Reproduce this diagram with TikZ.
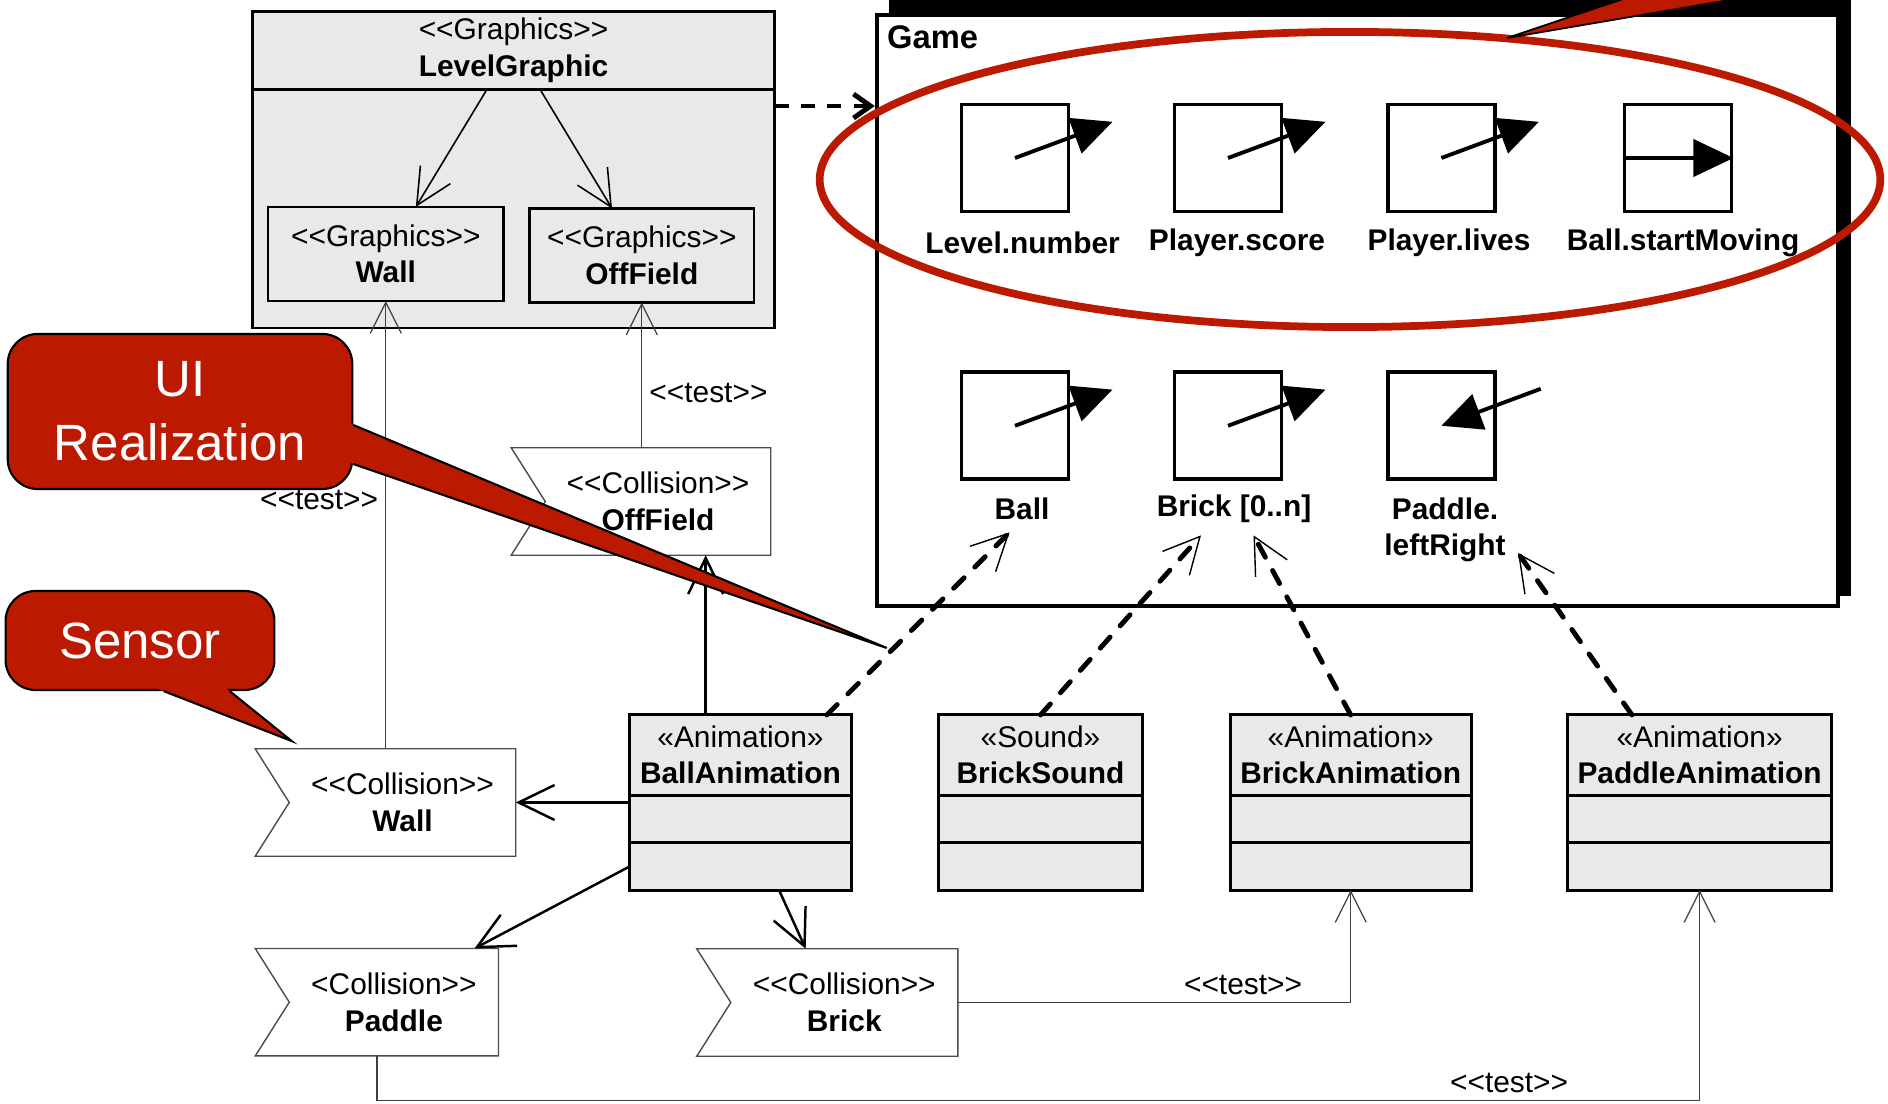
\documentclass[tikz,border=0pt]{standalone}
\usepackage{fontspec}
\setmainfont{Liberation Sans}
\usetikzlibrary{arrows.meta, positioning, calc}
\definecolor{calred}{RGB}{187,26,0}
\definecolor{clsgray}{RGB}{233,233,233}
\newcommand\stereo[1]{<\kern0pt<#1>\kern0pt>}

\begin{document}
\begin{tikzpicture}[
  x=0.01cm, y=0.01cm,
  font=\fontsize{8.5}{10.4}\selectfont,
  clshead/.style={rectangle, draw, line width=0.85pt, fill=clsgray, minimum height=0.80cm,
                  inner sep=1pt, outer sep=0pt, align=center},
  clscomp/.style={rectangle, draw, line width=0.85pt, fill=clsgray, minimum height=0.475cm, outer sep=0pt},
  gfxbox/.style={rectangle, draw, line width=0.75pt, fill=clsgray, minimum height=0.94cm,
                 inner sep=1pt, align=center, outer sep=0pt},
  accept/.style={minimum height=1.06cm, align=center, inner sep=1pt},
  icon/.style={rectangle, draw, line width=1.1pt, minimum size=1.07cm},
  lbl/.style={font=\fontsize{8.5}{10.4}\selectfont\bfseries, align=center},
  testlbl/.style={inner sep=2pt},
  bubble/.style={rectangle, rounded corners=0.3cm, draw, line width=0.6pt, fill=calred, text=white,
                 font=\fontsize{14.5}{18.2}\selectfont, align=center},
  uses/.style={-{Straight Barb[length=0.36cm, width=0.35cm]}, line width=0.7pt},
  dep/.style={-{Straight Barb[length=0.36cm, width=0.36cm, line width=0.4pt]}, line width=1.4pt,
              line cap=round, dash pattern=on 4.2pt off 4.3pt},
  testline/.style={-{Straight Barb[length=0.31cm, width=0.31cm]}, line width=0.35pt, draw=black!75},
  iconarrow/.style={-{Triangle[length=0.40cm, width=0.37cm]}, line width=1.1pt},
]
\useasboundingbox (0,0) rectangle (1888,-1104);

% graphics package
\node[gfxbox, minimum width=5.22cm, minimum height=0.78cm] (lvlghead) at (513.5,-50.3)
  {\stereo{Graphics}\\\textbf{LevelGraphic}};
\node[gfxbox, minimum width=5.22cm, minimum height=2.386cm, below=0pt of lvlghead] (lvlgbody) {};
\node[gfxbox, minimum width=2.356cm] (gwall) at (385.8,-254) {\stereo{Graphics}\\\textbf{Wall}};
\node[gfxbox, minimum width=2.244cm] (goff)  at (641.8,-255.5) {\stereo{Graphics}\\\textbf{OffField}};
\draw[uses, line width=0.45pt] ([xshift=-0.265cm]lvlghead.south) -- ([xshift=0.30cm]gwall.north);
\draw[uses, line width=0.45pt] ([xshift=0.265cm]lvlghead.south) -- ([xshift=-0.298cm]goff.north);

% game frame
\node[rectangle, fill=black, minimum width=9.62cm, minimum height=6.02cm] (gameshadow) at (1370,-295) {};
\node[rectangle, draw, fill=white, line width=1.1pt, minimum width=9.61cm, minimum height=5.91cm]
  (game) at (1357.5,-310.5) {};
\node[lbl, font=\fontsize{9.3}{11}\selectfont\bfseries, anchor=north west] (gametitle)
  at (game.north west) {Game};

\foreach \n/\x/\y in {ic1/1015/158, ic2/1228/158, ic3/1441.4/158, ic4/1678/158,
                      ic5/1015/425.8, ic6/1228/425.8, ic7/1441.4/425.8}
  \node[icon] (\n) at (\x,-\y) {};
\foreach \n in {ic1, ic2, ic3, ic5, ic6}
  \draw[iconarrow] (\n.center) -- ++(97.5,36.2);
\draw[iconarrow] (ic4.west) -- (ic4.east);
\draw[iconarrow] ([shift={(99.3,37)}]ic7.center) -- (ic7.center);

\node[lbl] (lblnum)    at (1022.6,-243) {Level.number};
\node[lbl] (lblscore)  at (1237,-243)   {Player.score};
\node[lbl] (lbllives)  at (1449,-243)   {Player.lives};
\node[lbl] (lblstart)  at (1683,-243)   {Ball.startMoving};
\node[lbl] (lblball)   at (1022,-509)   {Ball};
\node[lbl] (lblbrick)  at (1234,-509)   {Brick [0..n]};
\node[lbl] (lblpaddle) at (1445,-530)   {Paddle.\\leftRight};

\draw[calred, line width=2.2pt] (1350,-179.5) ellipse [x radius=5.30cm, y radius=1.475cm];
\coordinate (hltip) at (1507,-38);
\filldraw[fill=calred, draw=black, line width=0.5pt] (1655.7,12) -- (hltip) -- (1800,12);

\coordinate (lvlgout) at ([yshift=-0.167cm]lvlgbody.north east);
\draw[dep, line cap=butt, dash pattern=on 4pt off 3.5pt, -{Straight Barb[length=0.17cm, width=0.24cm]}]
  (lvlgout) -- (lvlgout -| game.west);

% classes
\node[clshead, minimum width=2.21cm] (ballanim) at (740.5,-755) {«Animation»\\\textbf{BallAnimation}};
\node[clscomp, minimum width=2.21cm, below=0pt of ballanim]  (ballanimA) {};
\node[clscomp, minimum width=2.21cm, below=0pt of ballanimA] (ballanimB) {};
\node[clshead, minimum width=2.03cm] (brsound) at (1040.5,-755) {«Sound»\\\textbf{BrickSound}};
\node[clscomp, minimum width=2.03cm, below=0pt of brsound]  (brsoundA) {};
\node[clscomp, minimum width=2.03cm, below=0pt of brsoundA] (brsoundB) {};
\node[clshead, minimum width=2.41cm] (brickanim) at (1350.7,-755) {«Animation»\\\textbf{BrickAnimation}};
\node[clscomp, minimum width=2.41cm, below=0pt of brickanim]  (brickanimA) {};
\node[clscomp, minimum width=2.41cm, below=0pt of brickanimA] (brickanimB) {};
\node[clshead, minimum width=2.636cm] (paddleanim) at (1699.6,-755) {«Animation»\\\textbf{PaddleAnimation}};
\node[clscomp, minimum width=2.636cm, below=0pt of paddleanim]  (paddleanimA) {};
\node[clscomp, minimum width=2.636cm, below=0pt of paddleanimA] (paddleanimB) {};

% sensors
\node[accept, minimum width=2.25cm]  (cwall)   at (402.5,-802.5)  {\stereo{Collision}\\\textbf{Wall}};
\node[accept, minimum width=2.24cm]  (coff)    at (658,-501.5)    {\stereo{Collision}\\\textbf{OffField}};
\node[accept, minimum width=2.077cm] (cpaddle) at (393.9,-1002.2) {<Collision>\kern0pt>\\\textbf{Paddle}};
\node[accept, minimum width=2.255cm] (cbrick)  at (844.3,-1002.5) {\stereo{Collision}\\\textbf{Brick}};
\foreach \n in {cwall, coff, cpaddle, cbrick}
  \draw[black!70, line width=0.4pt] ([xshift=-0.34cm]\n.north west) -- (\n.north east)
    -- (\n.south east) -- ([xshift=-0.34cm]\n.south west) -- (\n.west) -- cycle;

\draw[uses] (ballanimA.west |- cwall.east) -- (cwall.east);
\draw[uses] (ballanimB.west) -- ([xshift=-0.24cm]cpaddle.north east);
\draw[uses] ([xshift=0.385cm]ballanimB.south) -- ([xshift=-0.386cm]cbrick.north);
\coordinate (offfoot) at ([xshift=-0.348cm]ballanim.north);
\draw[uses] (offfoot) -- (offfoot |- coff.south);

\draw[testline] (gwall.south |- cwall.north) -- (gwall.south)
  node[testlbl, pos=0.556, left] {\stereo{test}};
\draw[testline] (goff.south |- coff.north) -- (goff.south)
  node[testlbl, pos=0.38, right] {\stereo{test}};
\draw[testline] (cbrick.east) -| node[testlbl, pos=0.363, above] {\stereo{test}} (brickanimB.south);
\coordinate (paddlefoot) at ([xshift=-0.17cm]cpaddle.south);
\draw[testline] (paddlefoot) -- ++(0,-44.5) -| node[testlbl, pos=0.428, above] {\stereo{test}}
  (paddleanimB.south);

\draw[dep] ([xshift=0.862cm]ballanim.north) -- ([xshift=-0.125cm]lblball.south);
\draw[dep] (brsound.north) -- ([xshift=-0.33cm]lblbrick.south);
\draw[dep] (brickanim.north) -- ([xshift=0.195cm]lblbrick.south);
\draw[dep] ([xshift=-0.676cm]paddleanim.north) -- ([yshift=-0.23cm]lblpaddle.east);

% callouts
\node[bubble, minimum width=3.444cm, minimum height=1.55cm] (uireal) at (180,-411.5) {UI\\Realization};
\coordinate (uitip) at (886.7,-648);
\coordinate (uibase1) at ([yshift=-0.135cm]uireal.east);
\coordinate (uibase2) at ([yshift=-0.525cm]uireal.east);
\fill[calred] ($(uitip)!1.05!(uibase1)$) -- (uitip) -- ($(uitip)!1.05!(uibase2)$) -- cycle;
\draw[line width=0.6pt] (uibase1) -- (uitip) -- (uibase2);

\node[bubble, minimum width=2.687cm, minimum height=0.99cm] (sensor) at (140,-640.5) {Sensor};
\coordinate (sensortip) at (291.6,-741);
\coordinate (sensorb1) at ([xshift=0.236cm]sensor.south);
\coordinate (sensorb2) at ([xshift=0.896cm]sensor.south);
\fill[calred] ($(sensortip)!1.1!(sensorb1)$) -- (sensortip) -- ($(sensortip)!1.1!(sensorb2)$) -- cycle;
\draw[line width=0.6pt] (sensorb1) -- (sensortip) -- (sensorb2);
\end{tikzpicture}
\end{document}
